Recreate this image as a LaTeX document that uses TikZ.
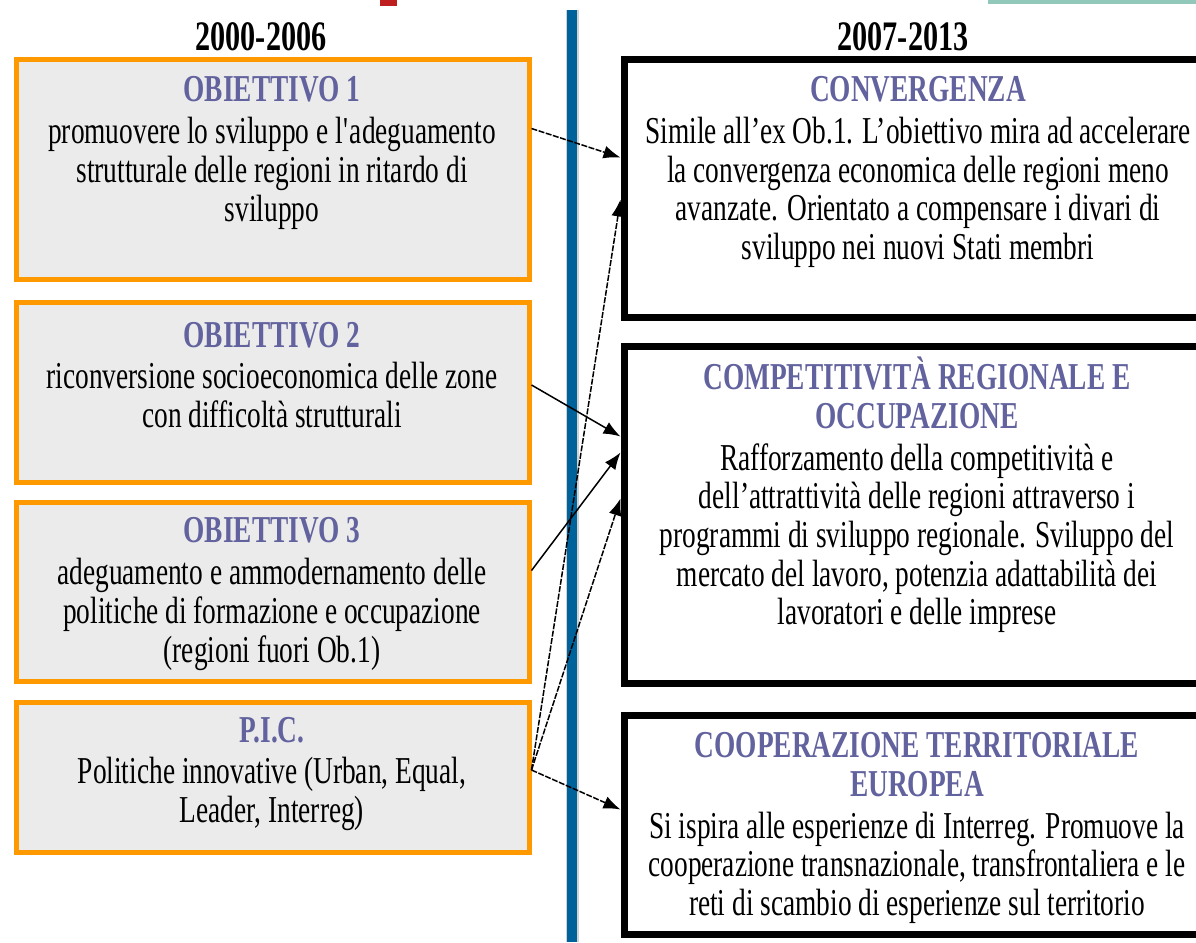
\documentclass[tikz,border=0pt]{standalone}
\usepackage{fontspec}
\setmainfont{Liberation Serif}[FakeStretch=0.72]
\usepackage{tikz}
\usetikzlibrary{arrows.meta,fit,positioning}
\definecolor{arancio}{RGB}{255,153,0}
\definecolor{grigio}{RGB}{235,235,235}
\definecolor{titblu}{RGB}{98,98,158}
\definecolor{divblu}{RGB}{0,98,155}
\definecolor{verdeacqua}{RGB}{145,200,185}
\definecolor{rosso}{RGB}{190,30,30}
\tikzstyle{oldbox} = [rectangle, draw=arancio, fill=grigio, line width=5pt, inner sep=0pt]
\tikzstyle{newbox} = [rectangle, draw=black, fill=white, line width=7pt, inner sep=0pt]
\tikzstyle{testo} = [align=center, inner sep=0pt, font=\fontsize{38}{38.7}\selectfont]
\tikzstyle{anno} = [inner sep=0pt, font=\fontsize{42}{44}\selectfont\bfseries]
\tikzstyle{line} = [draw, line width=1.5pt, -{Latex[length=17pt,width=13pt]}]
\tikzstyle{dline} = [line, dash pattern=on 6pt off 1.5pt]
\newcommand{\titolo}[1]{{\bfseries\color{titblu}#1}}

\begin{document}
\begin{tikzpicture}[x=1pt, y=-1pt]
\useasboundingbox (0,0) rectangle (1196,942);
\fill[white] (0,0) rectangle (1196,942);
% Top marks and divider
\fill[rosso] (380,0) rectangle (397,6);
\fill[verdeacqua] (988,0) rectangle (1196,4);
\draw[line width=13pt, gray!35] (572,10) -- (572,942);
\draw[line width=10pt, divblu] (572,10) -- (572,942);

% Place nodes
\node [anno] (old) at (261,37) {2000-2006};
\node [anno] (new) at (903,37) {2007-2013};

\node [oldbox, fit={(16,60) (529,279)}] (ob1) {};
\node [oldbox, fit={(16,302) (529,482)}] (ob2) {};
\node [oldbox, fit={(16,502) (529,681)}] (ob3) {};
\node [oldbox, fit={(16,702) (529,852)}] (pic) {};
\node [newbox, fit={(624,60) (1210,317)}] (conv) {};
\node [newbox, fit={(624,346) (1210,683)}] (comp) {};
\node [newbox, fit={(624,715) (1210,934)}] (coop) {};

\node [testo] (ob1t) at (272,153) {\titolo{OBIETTIVO 1}\\[3pt]
  promuovere lo sviluppo e l\textquotesingle adeguamento\\
  strutturale delle regioni in ritardo di\\ sviluppo};
\node [testo] (ob2t) at (272,375) {\titolo{OBIETTIVO 2}\\[3pt]
  riconversione socioeconomica delle zone\\ con difficoltà strutturali};
\node [testo] (ob3t) at (272,594) {\titolo{OBIETTIVO 3}\\[3pt]
  adeguamento e ammodernamento delle\\
  politiche di formazione e occupazione\\ (regioni fuori Ob.1)};
\node [testo] (pict) at (272,774) {\titolo{P.I.C.}\\[3pt]
  Politiche innovative (Urban, Equal,\\ Leader, Interreg)};
\node [testo] (convt) at (918,172) {\titolo{CONVERGENZA}\\[3pt]
  Simile all’ex Ob.1. L’obiettivo mira ad accelerare\\
  la convergenza economica delle regioni meno\\
  avanzate. Orientato a compensare i divari di\\
  sviluppo nei nuovi Stati membri};
\node [testo] (compt) at (917,495) {\titolo{COMPETITIVITÀ REGIONALE E}\\
  \titolo{OCCUPAZIONE}\\[3pt]
  Rafforzamento della competitività e\\
  dell’attrattività delle regioni attraverso i\\
  programmi di sviluppo regionale. Sviluppo del\\
  mercato del lavoro, potenzia adattabilità dei\\
  lavoratori e delle imprese};
\node [testo] (coopt) at (917,828) {\titolo{COOPERAZIONE TERRITORIALE}\\
  \titolo{EUROPEA}\\[3pt]
  Si ispira alle esperienze di Interreg. Promuove la\\
  cooperazione transnazionale, transfrontaliera e le\\
  reti di scambio di esperienze sul territorio};

% Draw edges
\path [dline] ([yshift=41pt]ob1.east) -- ([yshift=31pt]conv.west);
\path [line] ([yshift=7pt]ob2.east) -- ([yshift=78pt]comp.west);
\path [line] ([yshift=21pt]ob3.east) -- ([yshift=62pt]comp.west);
\path [dline] ([yshift=7pt]pic.east) -- ([yshift=-11pt]conv.west);
\path [dline] ([yshift=7pt]pic.east) -- ([yshift=16pt]comp.west);
\path [dline] ([yshift=7pt]pic.east) -- ([yshift=15pt]coop.west);
\end{tikzpicture}
\end{document}
